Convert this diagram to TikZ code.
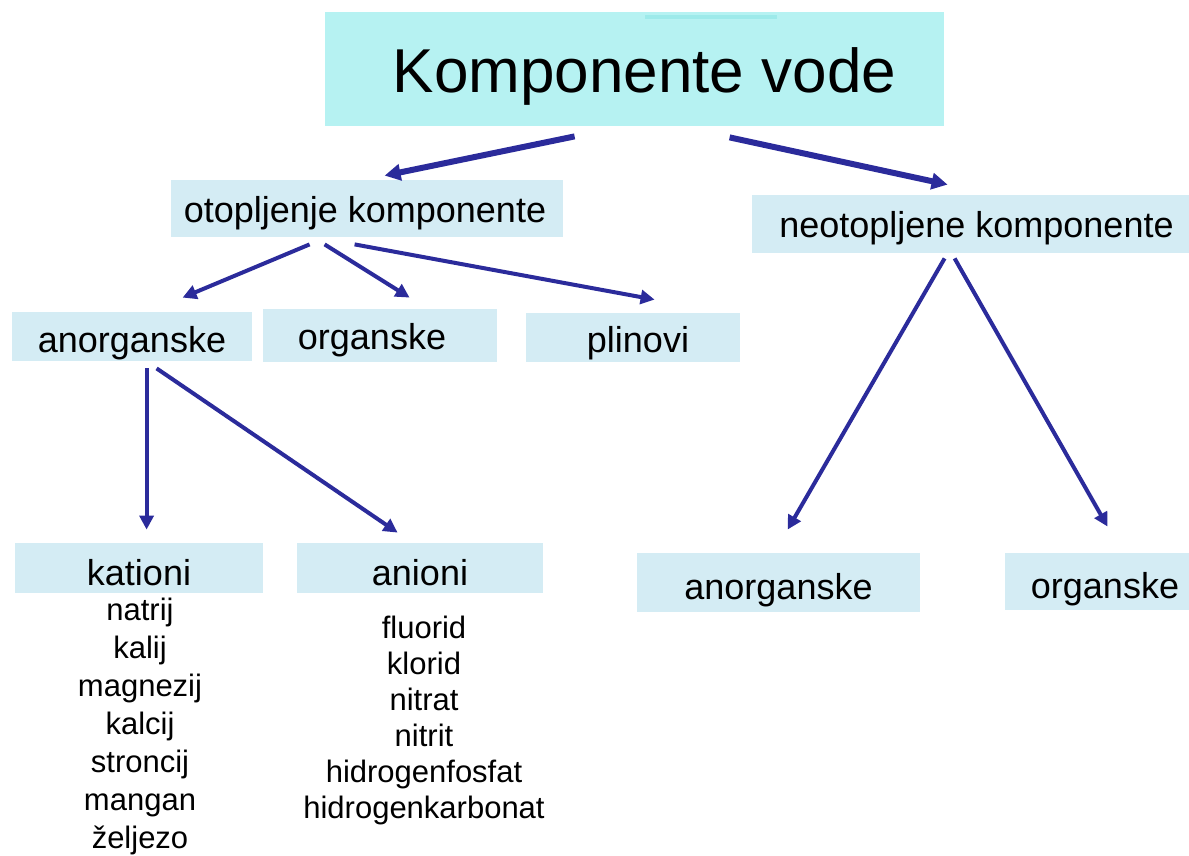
\documentclass[tikz,border=0pt]{standalone}
\usepackage{fontspec}
\setmainfont{Liberation Sans}
\usetikzlibrary{arrows.meta,calc}
\definecolor{titlecyan}{HTML}{B6F2F2}
\definecolor{stripcyan}{HTML}{9DEAEA}
\definecolor{boxblue}{HTML}{D4ECF4}
\definecolor{arrowblue}{HTML}{2B2B9B}
\newcommand{\lowertext}[2]{\raisebox{-#1}[\height][\depth]{#2}}
\tikzset{
  px/.style={x=0.5pt,y=-0.5pt},
  box/.style={fill=boxblue,inner sep=0pt,font=\fontsize{18pt}{20pt}\selectfont},
  item/.style={inner sep=0pt,anchor=base,font=\fontsize{15.5pt}{17pt}\selectfont},
  conn/.style={draw=arrowblue,line width=2pt,-{Triangle[length=7pt,width=7pt]}},
  bigconn/.style={draw=arrowblue,line width=3pt,-{Triangle[length=8pt,width=8pt]}}
}
\begin{document}
\begin{tikzpicture}[px]
\useasboundingbox (0,0) rectangle (1189,856);
% nodes
\node[fill=titlecyan,inner sep=0pt,minimum width=309.5pt,minimum height=57pt,font=\fontsize{31pt}{34pt}\selectfont] (title) at (634.5,69) {\hspace*{10pt}\lowertext{3.5pt}{Komponente vode}};
\fill[stripcyan] (645,15) rectangle (777,19);
\node[box,minimum width=196pt,minimum height=28.5pt] (otop) at (367,208.5) {\lowertext{2.5pt}{otopljenje komponente}\hspace*{2pt}};
\node[box,minimum width=218.5pt,minimum height=29pt] (neot) at (970.5,224) {\hspace*{6pt}\lowertext{2pt}{neotopljene komponente}};
\node[box,minimum width=120pt,minimum height=24.5pt] (anorg) at (132,336.5) {\lowertext{3.5pt}{anorganske}};
\node[box,minimum width=117pt,minimum height=26.5pt] (org) at (380,335.5) {\lowertext{2.5pt}{organske}\hspace*{8pt}};
\node[box,minimum width=107pt,minimum height=24.5pt] (plin) at (633,337.5) {\hspace*{5pt}\lowertext{3pt}{plinovi}};
\node[box,minimum width=124pt,minimum height=25pt] (kat) at (139,568) {\lowertext{2.5pt}{kationi}};
\node[box,minimum width=123pt,minimum height=25pt] (ani) at (420,568) {\lowertext{2.5pt}{anioni}};
\node[box,minimum width=141.5pt,minimum height=29.5pt] (anorg2) at (778.5,582.5) {\lowertext{4pt}{anorganske}};
\node[box,minimum width=92pt,minimum height=28.5pt] (org2) at (1097,581.5) {\hspace*{8pt}\lowertext{4pt}{organske}};
% cation list
\node[item] (k1) at (140,620) {natrij};
\node[item] (k2) at (140,658) {kalij};
\node[item] (k3) at (140,696) {magnezij};
\node[item] (k4) at (140,734) {kalcij};
\node[item] (k5) at (140,772) {stroncij};
\node[item] (k6) at (140,810) {mangan};
\node[item] (k7) at (140,848) {željezo};
% anion list
\node[item] (a1) at (424,638) {fluorid};
\node[item] (a2) at (424,674) {klorid};
\node[item] (a3) at (424,710) {nitrat};
\node[item] (a4) at (424,746) {nitrit};
\node[item] (a5) at (424,782) {hidrogenfosfat};
\node[item] (a6) at (424,818) {hidrogenkarbonat};
% connectors
\draw[bigconn] ($(title.south west)+(250,10)$) -- ($(otop.north west)+(214,-4)$);
\draw[bigconn] ($(title.south west)+(405,11)$) -- ($(neot.north west)+(196,-10)$);
\draw[conn] ($(otop.south west)+(139,7)$) -- ($(anorg.north west)+(171,-14)$);
\draw[conn] ($(otop.south west)+(154,7)$) -- ($(org.north west)+(147,-11)$);
\draw[conn] ($(otop.south west)+(184,7)$) -- ($(plin.north west)+(129,-13)$);
\draw[conn] ($(anorg.south west)+(135,7)$) -- ($(kat.north west)+(132,-13)$);
\draw[conn] ($(anorg.south west)+(145,7)$) -- ($(ani.north west)+(101,-10)$);
\draw[conn] ($(neot.south west)+(193,5)$) -- ($(anorg2.north west)+(151,-23)$);
\draw[conn] ($(neot.south west)+(203,5)$) -- ($(org2.north west)+(103,-26)$);
\end{tikzpicture}
\end{document}
